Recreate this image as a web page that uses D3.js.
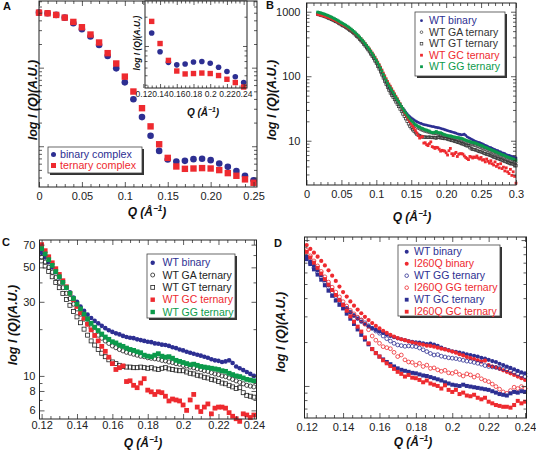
<!DOCTYPE html>
<html><head><meta charset="utf-8">
<script src="https://cdn.jsdelivr.net/npm/d3@7"></script>
<style>body{margin:0;background:#fff}svg{display:block}</style>
</head><body><svg id="c" width="536" height="455"></svg>
<script>
// ---------- Panel A data ----------
const qA = [0,0.01,0.02,0.03,0.04,0.05,0.06,0.07,0.08,0.09,0.10,0.11,0.12,0.13,0.14,0.15,0.16,0.17,0.18,0.19,0.20,0.21,0.22,0.23,0.24,0.25];
const binaryA = [501,492,469,433,368,309,249,194,141,98,65,39.7,23.5,13.6,8.73,6.79,6.40,6.52,6.85,6.92,6.65,6.04,5.47,4.83,4.21,3.68];
const ternaryA = [501,492,469,433,382,327,264,209,153,113,76.9,49.7,30.5,17.9,10.6,7.11,5.53,5.16,5.21,5.27,5.21,4.97,4.55,4.21,3.79,3.43];

// ---------- Panels B/C data (shared q grid) ----------
const qLow = [0.016,0.018,0.02,0.022,0.024,0.026,0.028,0.03,0.032,0.034,0.036,0.038,0.04,0.042,0.044,0.046,0.048,0.05,0.052,0.054,0.056,0.058,0.06,0.062,0.064,0.066,0.068,0.07,0.072,0.074,0.076,0.078,0.08,0.082,0.084,0.086,0.088,0.09,0.092,0.094,0.096,0.098,0.1,0.102,0.104,0.106,0.108,0.11,0.112,0.114,0.116,0.118];
const qMid = [0.12,0.122,0.124,0.126,0.128,0.13,0.132,0.134,0.136,0.138,0.14,0.142,0.144,0.146,0.148,0.15,0.152,0.154,0.156,0.158,0.16,0.162,0.164,0.166,0.168,0.17,0.172,0.174,0.176,0.178,0.18,0.182,0.184,0.186,0.188,0.19,0.192,0.194,0.196,0.198,0.2,0.202,0.204,0.206,0.208,0.21,0.212,0.214,0.216,0.218,0.22,0.222,0.224,0.226,0.228,0.23,0.232,0.234,0.236,0.238,0.24];
const qHigh = [0.242,0.244,0.246,0.248,0.25,0.252,0.254,0.256,0.258,0.26,0.262,0.264,0.266,0.268,0.27,0.272,0.274,0.276,0.278,0.28,0.282,0.284,0.286,0.288,0.29,0.292,0.294,0.296,0.298,0.3];
const qB = qLow.concat(qMid, qHigh);

const wtBinary = [959,946,933,918,904,887,871,853,836,817,798,778,759,738,718,697,676,655,637,618,600,581,561,541,520,499,478,456,435,413,392,371,350,330,310,290,272,254,236,219,203,187,171,156,142,128,115,103,92.5,82.8,74.5,67.6,
 62,58,54,50,46.5,43,40,37,34.5,32,30,28,26.3,24.8,23.6,22.6,21.8,21.0,20.3,19.7,19.2,18.8,18.5,18.1,17.8,17.6,17.5,17.2,17.0,16.8,16.6,16.5,16.2,16.1,15.9,15.8,15.6,15.3,15.1,14.8,14.6,14.3,14.1,13.9,13.7,13.5,13.3,13.1,12.8,12.6,12.5,12.3,12.4,12.6,12.1,11.5,11.2,10.9,10.6,10.3,10.0,
 9.8,9.6,9.4,9.3,9.1,8.9,8.7,8.5,8.3,8.1,7.9,7.8,7.6,7.4,7.3,7.1,7.0,6.8,6.7,6.5,6.4,6.3,6.1,6.0,5.9,5.8,5.7,5.6,5.5,5.4];
const wtGA = [930,918,905,890,877,860,845,827,811,793,774,755,740,720,700,680,660,640,622,604,587,568,549,530,509,489,468,447,426,404,383,362,341,321,301,281,263,245,227,210,194,178,163,148,135,121,109,97.5,87.5,78.3,70.4,63.8,
 58,54,50,46.5,43,40,37,34,31.5,29,27,25,23.2,21.7,20.4,19.3,18.3,17.5,16.8,16.2,15.6,15.2,14.8,14.5,14.2,14.0,13.8,13.6,13.4,13.3,13.1,13.0,12.9,12.8,12.6,12.5,12.3,12.2,12.0,11.9,11.7,11.6,11.4,11.3,11.1,11.0,10.8,10.7,10.5,10.3,10.2,10.0,9.9,9.7,9.5,9.3,9.1,8.9,8.7,8.6,8.5,
 8.4,8.2,8.1,7.9,7.7,7.6,7.4,7.3,7.1,7.0,6.8,6.7,6.5,6.4,6.2,6.1,6.0,5.8,5.7,5.6,5.5,5.4,5.2,5.1,5.0,4.9,4.8,4.7,4.7,4.6];
const wtGT = [911,899,886,872,859,843,827,810,794,776,758,739,724,705,686,666,646,626,609,591,574,556,537,518,498,478,458,437,417,396,375,355,334,315,295,276,258,240,222,205,189,173,158,143,130,117,105,94,84,75.0,67.4,61.0,
 55,51,47,43.5,40,37,34,31,28.5,26,24,22,20,18.3,16.8,15.8,14.8,14.0,13.3,12.7,12.3,12.0,11.7,11.5,11.4,11.4,11.3,11.3,11.4,11.3,11.2,11.3,11.1,11.0,11.2,11.3,11.1,11.0,10.9,10.8,10.8,10.6,10.4,10.3,10.1,10.0,9.8,9.7,9.5,9.4,9.2,9.0,8.9,8.7,8.5,8.3,8.4,7.8,7.5,7.4,7.3,
 7.2,7.1,6.9,6.8,6.7,6.6,6.4,6.3,6.2,6.1,6.0,5.9,5.7,5.6,5.5,5.4,5.3,5.2,5.1,5.0,4.9,4.8,4.7,4.6,4.5,4.4,4.4,4.3,4.2,4.1];
const wtGC = [911,901,891,879,869,855,842,827,813,796,779,761,744,725,707,687,668,648,632,614,598,580,561,543,523,503,484,463,443,422,401,381,361,341,321,301,283,265,247,230,214,198,181,166,152,138,125,112,101.6,91.6,83.0,75.7,
 70,64,58.5,53.5,49,45,41,37.5,34,31,28,25.5,23.5,21.5,19.8,18.2,16.8,15.5,14.4,13.2,12.0,11.0,11.3,11.6,9.2,9.3,8.7,8.4,9.0,9.6,8.1,7.9,7.6,7.9,7.8,7.4,6.9,7.1,7.0,6.9,6.5,6.0,7.0,7.6,6.3,5.9,6.3,6.6,5.7,6.2,6.3,6.3,6.2,5.8,5.5,5.3,5.1,5.7,5.6,5.4,5.6,
 5.5,5.8,5.4,5.2,5.5,5.0,5.1,4.7,5.2,4.8,4.5,4.9,4.4,4.2,4.7,4.0,4.3,3.8,4.4,3.7,3.9,3.4,3.8,3.3,3.1,3.6,2.9,3.3,2.8,2.2];
const wtGG = [988,974,961,946,931,914,897,879,861,842,822,801,782,760,740,718,696,675,656,637,618,598,578,557,536,514,492,470,448,425,404,382,361,340,319,299,280,262,243,226,209,193,176,161,147,133,120,107,96.5,86.9,78.5,71.5,
 66,61,56,51.5,47,43.5,40,37,34,31.5,29,27,25,23.3,21.8,20.6,19.6,18.6,17.8,17.2,16.6,16.3,15.8,15.5,15.1,14.8,14.6,14.3,14.1,13.6,13.4,13.3,13.6,13.9,13.4,13.2,13.3,13.0,12.6,12.4,12.2,12.0,11.8,11.9,11.7,11.5,11.4,11.3,11.2,11.1,11.0,10.8,10.7,10.4,10.2,10.0,9.9,9.7,9.5,9.4,9.3,
 9.2,9.0,8.8,8.6,8.5,8.3,8.1,7.9,7.8,7.6,7.4,7.3,7.1,7.0,6.8,6.7,6.5,6.4,6.2,6.1,6.0,5.9,5.7,5.6,5.5,5.4,5.3,5.2,5.1,5.0];

// ---------- Panel D data ----------
const qD = qMid;
const dWTBinary = [77,71.5,66.5,62,57.5,53,49,45.5,42,39,36,34,32,30.3,28.9,27.6,26.6,25.6,24.9,24.2,23.6,23.1,22.5,22.0,21.6,21.2,20.9,20.6,20.3,20.1,19.9,19.8,19.6,19.4,19.5,19.2,18.8,18.3,17.9,17.6,17.3,17.1,16.9,16.7,16.5,16.3,16.1,15.9,15.6,15.4,15.1,14.8,14.6,14.2,13.9,13.6,13.3,13.0,12.7,12.4,12.2];
const dI260QBinary = [92.5,87,82,77,72,67,62,57,52.5,48,44,41,38,35.5,33.4,31.5,29.8,28.3,27.0,25.8,24.8,23.9,23.1,22.4,21.8,21.3,20.9,20.6,20.2,19.9,19.6,19.4,19.2,18.9,18.8,18.6,18.3,18.0,17.8,17.5,17.2,16.9,16.5,16.2,15.8,15.5,15.3,15.0,14.7,14.9,13.9,13.6,13.4,13.1,12.8,12.5,12.2,11.9,11.6,11.3,11.0];
const dWTGG = [75,69.5,64.5,60,55.5,51.5,47.5,44,41,38.3,36,34,32.1,30.5,29.3,28.3,27.1,25.9,24.8,23.8,23.0,22.0,21.1,20.3,19.6,19.1,18.9,18.7,18.8,18.7,18.6,18.2,17.7,17.2,16.7,16.3,16.4,16.0,15.8,15.6,15.5,15.4,15.2,15.0,14.8,14.7,14.5,14.3,14.1,13.8,13.6,13.5,13.4,13.2,13.1,12.9,12.7,12.4,12.1,11.8,11.6];
const dI260QGG = [85,78,72,66.5,61,56,51.5,47.5,44,40.8,37.8,35.3,33.0,31.2,29.6,28.3,26.5,24.3,22.0,20.6,19.6,18.6,18.3,18.0,17.0,15.9,16.3,15.1,14.6,14.5,13.9,14.3,13.6,13.9,13.2,13.3,12.9,12.6,12.8,12.3,12.2,12.5,12.0,11.7,12.1,11.9,11.5,11.8,11.2,10.9,10.7,10.3,9.9,9.5,9.1,8.9,9.3,9.8,9.6,9.9,9.6];
const dWTGC = [74,68.5,63,58,53.5,49,45,41.5,38.5,36,34,31.3,28.9,26.6,24.4,22.4,20.8,19.3,17.9,16.8,15.9,15.2,14.6,14.1,13.6,13.2,12.9,12.7,12.5,12.3,12.2,12.0,11.8,11.7,11.5,11.3,11.1,10.9,10.6,10.4,10.2,10.1,10.0,10.2,10.0,9.9,9.8,9.7,9.6,9.5,9.4,9.2,9.0,8.8,8.7,8.6,8.9,9.1,9.0,9.2,9.1];
const dI260QGC = [83,76,70,64.5,59,54,49.5,45.5,42,38.8,35.9,32.8,30.0,27.6,25.5,23.6,21.5,19.6,17.9,16.8,15.9,15.0,14.3,13.7,13.1,12.5,12.1,11.6,11.9,11.4,11.3,11.0,10.6,10.9,10.4,10.2,10.0,9.6,10.1,9.4,9.1,9.4,8.8,9.0,8.6,8.5,8.7,8.3,8.1,8.3,7.8,7.6,7.4,7.3,7.2,7.2,7.1,7.4,7.9,7.6,7.8];

// ---------- tick labels ----------
const xTicksA = [0,0.05,0.1,0.15,0.2,0.25];
const xLabelsA = ["0","0.05","0.1","0.15","0.20","0.25"];
const xTicksInset = [0.12,0.14,0.16,0.18,0.2,0.22,0.24];
const xLabelsInset = ["0.12","0.14","0.16","0.18","0.2","0.22","0.24"];
const xTicksB = [0,0.05,0.1,0.15,0.2,0.25,0.3];
const xLabelsB = ["0","0.05","0.1","0.15","0.20","0.25","0.3"];
const yTicksB = [10,100,1000];
const yLabelsB = ["10","100","1000"];
const xTicksC = [0.12,0.14,0.16,0.18,0.2,0.22,0.24];
const xLabelsC = ["0.12","0.14","0.16","0.18","0.2","0.22","0.24"];
const yTicksC = [6,8,10,30,50,70];
const yLabelsC = ["6","8","10","30","50","70"];

// ---------- drawing ----------
const svg = d3.select('#c');
const FONT = "'Liberation Sans', Arial, Helvetica, sans-serif";
const BLUE = '#2d2f92', RED = '#ee2a2f', GREEN = '#0b9a4b';

function logTicks(lo, hi, mults) {
  const out = [];
  for (let e = -1; e <= 4; e++) for (const m of mults) { const v = m * Math.pow(10, e); if (v >= lo * 0.999 && v <= hi * 1.001) out.push(v); }
  return out;
}

function panel(c) {
  const x = d3.scaleLinear().domain(c.xd).range([c.l, c.r]);
  const y = d3.scaleLog().domain(c.yd).range([c.b, c.t]);
  const g = svg.append('g');
  g.append('rect').attr('x', c.l).attr('y', c.t).attr('width', c.r - c.l).attr('height', c.b - c.t).attr('fill', '#fff');
  const data = g.append('g');
  return { x, y, g, data, c };
}

function finish(p) {
  const { x, y, g, c } = p;
  const ax = g.append('g');
  const mk = (axis, tr) => {
    const a = ax.append('g').attr('transform', tr).call(axis);
    a.select('.domain').remove();
    a.selectAll('line').attr('stroke', '#333').attr('stroke-width', 0.8);
    a.selectAll('text').attr('font-family', FONT).attr('font-size', c.fs).attr('fill', '#222');
    return a;
  };
  const lab = (ticks, labels) => d => { const i = ticks.findIndex(t => Math.abs(t - d) < 1e-9); return i >= 0 ? labels[i] : ''; };
  const xMaj = c.xMaj, xMin = c.xMin;
  mk(d3.axisBottom(x).tickValues(xMaj).tickFormat(lab(xMaj, c.xLab)).tickSize(-c.tl).tickPadding(c.xpad), `translate(0,${c.b})`);
  mk(d3.axisBottom(x).tickValues(xMin).tickFormat('').tickSize(-c.ts), `translate(0,${c.b})`);
  mk(d3.axisTop(x).tickValues(xMaj).tickFormat('').tickSize(-c.tl), `translate(0,${c.t})`);
  mk(d3.axisTop(x).tickValues(xMin).tickFormat('').tickSize(-c.ts), `translate(0,${c.t})`);
  const yMaj = c.yMaj, yMin = c.yMin;
  const yl = c.yLab ? lab(yMaj, c.yLab) : '';
  mk(d3.axisLeft(y).tickValues(yMaj).tickFormat(yl).tickSize(-c.tl).tickPadding(c.ypad || 4), `translate(${c.l},0)`);
  mk(d3.axisLeft(y).tickValues(yMin).tickFormat('').tickSize(-c.ts), `translate(${c.l},0)`);
  mk(d3.axisRight(y).tickValues(yMaj).tickFormat('').tickSize(-c.tl), `translate(${c.r},0)`);
  mk(d3.axisRight(y).tickValues(yMin).tickFormat('').tickSize(-c.ts), `translate(${c.r},0)`);
  g.append('rect').attr('x', c.l).attr('y', c.t).attr('width', c.r - c.l).attr('height', c.b - c.t)
    .attr('fill', 'none').attr('stroke', '#222').attr('stroke-width', 1);
}

function series(p, qs, vs, shape, size, color, filled, sw) {
  const [x0, x1] = p.x.domain(), [y0, y1] = p.y.domain();
  const tol = p.c.ytol || 1;
  const pts = qs.map((q, i) => ({ q, v: vs[i] })).filter(d => d.q >= x0 - 1e-9 && d.q <= x1 + 1e-9 && d.v >= y0 * tol && d.v <= y1);
  const sel = p.data.append('g').selectAll(null).data(pts);
  if (shape === 'circle') {
    sel.join('circle').attr('cx', d => p.x(d.q)).attr('cy', d => p.y(d.v)).attr('r', size / 2)
      .attr('fill', filled ? color : 'none').attr('stroke', filled ? 'none' : color).attr('stroke-width', sw || 0.8);
  } else {
    sel.join('rect').attr('x', d => p.x(d.q) - size / 2).attr('y', d => p.y(d.v) - size / 2).attr('width', size).attr('height', size)
      .attr('fill', filled ? color : 'none').attr('stroke', filled ? 'none' : color).attr('stroke-width', sw || 0.8);
  }
}

function marker(g, cx, cy, shape, size, color, filled, sw) {
  if (shape === 'circle') g.append('circle').attr('cx', cx).attr('cy', cy).attr('r', size / 2)
    .attr('fill', filled ? color : 'none').attr('stroke', filled ? 'none' : color).attr('stroke-width', sw || 0.8);
  else g.append('rect').attr('x', cx - size / 2).attr('y', cy - size / 2).attr('width', size).attr('height', size)
    .attr('fill', filled ? color : 'none').attr('stroke', filled ? 'none' : color).attr('stroke-width', sw || 0.8);
}

function legend(x0, y0, x1, y1, rows, mx, tx, ys, fs) {
  const g = svg.append('g');
  g.append('rect').attr('x', x0 + 2).attr('y', y0 + 2).attr('width', x1 - x0).attr('height', y1 - y0).attr('fill', '#333');
  g.append('rect').attr('x', x0).attr('y', y0).attr('width', x1 - x0).attr('height', y1 - y0).attr('fill', '#fff').attr('stroke', '#444').attr('stroke-width', 0.8);
  rows.forEach((r, i) => {
    marker(g, mx, ys[i], r.shape, r.size, r.color, r.filled, r.sw);
    g.append('text').attr('x', tx).attr('y', ys[i]).attr('dy', '0.36em').attr('font-family', FONT).attr('font-size', fs)
      .attr('fill', r.tcolor || r.color).text(r.label);
  });
}

function yTitle(x, y, fs) {
  svg.append('text').attr('transform', `translate(${x},${y}) rotate(-90)`).attr('text-anchor', 'middle').attr('dy', '0.36em')
    .attr('font-family', FONT).attr('font-size', fs).attr('font-weight', 'bold').attr('font-style', 'italic').attr('fill', '#111')
    .text('log I (Q)(A.U.)');
}
function xTitle(x, y, fs) {
  const t = svg.append('text').attr('x', x).attr('y', y).attr('text-anchor', 'middle').attr('font-family', FONT)
    .attr('font-size', fs).attr('font-weight', 'bold').attr('font-style', 'italic').attr('fill', '#111');
  t.append('tspan').text('Q (Å');
  t.append('tspan').attr('dy', -fs * 0.38).attr('font-size', fs * 0.68).text('−1');
  t.append('tspan').attr('dy', fs * 0.38).text(')');
}
function panelLabel(x, y, s) {
  svg.append('text').attr('x', x).attr('y', y).attr('font-family', FONT).attr('font-size', 11).attr('font-weight', 'bold').attr('fill', '#111').text(s);
}
const minorLin = (a, b, step, majStep) => d3.range(a, b + 1e-9, step).filter(v => Math.abs(v / majStep - Math.round(v / majStep)) > 1e-6);

// ===== Panel A =====
(function () {
  const c = { l: 39, r: 257, t: 1, b: 187, xd: [0, 0.254], yd: [3.03, 705], fs: 11, tl: 5, ts: 3, xpad: 5,
    xMaj: xTicksA, xLab: xLabelsA, xMin: minorLin(0.01, 0.25, 0.01, 0.05),
    yMaj: logTicks(3.03, 705, [1]), yMin: logTicks(3.03, 705, [2, 3, 4, 5, 6, 7, 8, 9]) };
  const p = panel(c);
  series(p, qA, binaryA, 'circle', 6.6, BLUE, true);
  series(p, qA, ternaryA, 'rect', 6.4, RED, true);
  finish(p);
})();
legend(48, 147, 142, 173, [
  { label: 'binary complex', shape: 'circle', size: 5, color: BLUE, filled: true },
  { label: 'ternary complex', shape: 'rect', size: 5, color: RED, filled: true }
], 53.5, 60, [154.5, 165.5], 10.7);
// inset
(function () {
  const c = { l: 145, r: 247, t: 1, b: 88, xd: [0.122, 0.244], yd: [3.7, 29], fs: 8.5, tl: 4, ts: 2.5, xpad: 3,
    xMaj: xTicksInset, xLab: xLabelsInset, xMin: minorLin(0.125, 0.24, 0.005, 0.02).filter(v => v > 0.122),
    yMaj: logTicks(3.7, 29, [1]), yMin: logTicks(3.7, 29, [2, 3, 4, 5, 6, 7, 8, 9]) };
  const p = panel(c);
  series(p, qA, binaryA, 'circle', 5.6, BLUE, true);
  series(p, qA, ternaryA, 'rect', 5.4, RED, true);
  finish(p);
})();
yTitle(32, 100, 12.5);
xTitle(147, 216, 12);
yTitle(137, 43, 8.5);
xTitle(203, 116, 10);
panelLabel(3, 10, 'A');

// ===== Panel B =====
(function () {
  const c = { l: 306.5, r: 516, t: 3, b: 185, xd: [0, 0.3], yd: [2.06, 1365], fs: 11, tl: 5, ts: 3, xpad: 5, ypad: 6,
    xMaj: xTicksB, xLab: xLabelsB, xMin: minorLin(0.01, 0.29, 0.01, 0.05),
    yMaj: yTicksB, yLab: yLabelsB, yMin: logTicks(2.06, 1365, [2, 3, 4, 5, 6, 7, 8, 9]) };
  const p = panel(c);
  series(p, qB, wtBinary, 'circle', 2.8, BLUE, true);
  series(p, qB, wtGA, 'circle', 2.4, '#333', false, 0.7);
  series(p, qB, wtGT, 'rect', 2.4, '#333', false, 0.7);
  series(p, qB, wtGC, 'rect', 2.8, RED, true);
  series(p, qB, wtGG, 'rect', 2.8, GREEN, true);
  finish(p);
})();
legend(415, 12, 505, 76, [
  { label: 'WT binary', shape: 'circle', size: 2.8, color: BLUE, filled: true },
  { label: 'WT GA ternary', shape: 'circle', size: 2.6, color: '#333', filled: false, sw: 0.7 },
  { label: 'WT GT ternary', shape: 'rect', size: 2.6, color: '#333', filled: false, sw: 0.7 },
  { label: 'WT GC ternary', shape: 'rect', size: 2.8, color: RED, filled: true },
  { label: 'WT GG ternary', shape: 'rect', size: 2.8, color: GREEN, filled: true }
], 421.5, 429, [20.7, 32.2, 43.7, 55.2, 66.7], 10.5);
yTitle(271, 100, 12.5);
xTitle(412, 221, 12);
panelLabel(266, 9, 'B');

// ===== Panel C =====
(function () {
  const c = { l: 39.5, r: 256.5, t: 240, b: 419, xd: [0.1188, 0.2415], yd: [5.28, 75], ytol: 0.94, fs: 11, tl: 5, ts: 3, xpad: 2, ypad: 4,
    xMaj: xTicksC, xLab: xLabelsC, xMin: minorLin(0.125, 0.24, 0.005, 0.02).filter(v => v > 0.12),
    yMaj: yTicksC, yLab: yLabelsC, yMin: logTicks(5.28, 75, [1, 2, 3, 4, 5, 6, 7, 8, 9]).filter(v => !yTicksC.includes(v)) };
  const p = panel(c);
  series(p, qB, wtBinary, 'circle', 4.6, BLUE, true);
  series(p, qB, wtGA, 'circle', 4.2, '#222', false, 0.8);
  series(p, qB, wtGT, 'rect', 4.0, '#222', false, 0.8);
  series(p, qB, wtGC, 'rect', 4.8, RED, true);
  series(p, qB, wtGG, 'rect', 4.8, GREEN, true);
  finish(p);
})();
legend(147, 254, 235, 318, [
  { label: 'WT binary', shape: 'circle', size: 4.4, color: BLUE, filled: true },
  { label: 'WT GA ternary', shape: 'circle', size: 4.0, color: '#222', filled: false },
  { label: 'WT GT ternary', shape: 'rect', size: 3.8, color: '#222', filled: false },
  { label: 'WT GC ternary', shape: 'rect', size: 4.4, color: RED, filled: true },
  { label: 'WT GG ternary', shape: 'rect', size: 4.4, color: GREEN, filled: true }
], 152.7, 162.5, [262.7, 275.0, 287.4, 299.7, 312.0], 10.5);
yTitle(12, 325, 12.5);
xTitle(143, 447, 12);
panelLabel(2, 246, 'C');

// ===== Panel D =====
(function () {
  const c = { l: 304.5, r: 526.5, t: 237, b: 418, xd: [0.1188, 0.2408], yd: [6.03, 105], fs: 11, tl: 5, ts: 3, xpad: 5,
    xMaj: xTicksC, xLab: xLabelsC, xMin: minorLin(0.125, 0.24, 0.005, 0.02).filter(v => v > 0.12),
    yMaj: logTicks(6.03, 105, [1]), yMin: logTicks(6.03, 105, [2, 3, 4, 5, 6, 7, 8, 9]) };
  const p = panel(c);
  series(p, qD, dWTBinary, 'circle', 4.2, BLUE, true);
  series(p, qD, dI260QBinary, 'circle', 4.2, RED, true);
  series(p, qD, dWTGG, 'circle', 3.8, BLUE, false, 0.8);
  series(p, qD, dI260QGG, 'circle', 3.8, RED, false, 0.8);
  series(p, qD, dWTGC, 'rect', 4.0, BLUE, true);
  series(p, qD, dI260QGC, 'rect', 4.0, RED, true);
  finish(p);
})();
legend(398, 245, 500, 316, [
  { label: 'WT binary', shape: 'circle', size: 4, color: BLUE, filled: true },
  { label: 'I260Q binary', shape: 'circle', size: 4, color: RED, filled: true },
  { label: 'WT GG ternary', shape: 'circle', size: 3.6, color: BLUE, filled: false },
  { label: 'I260Q GG ternary', shape: 'circle', size: 3.6, color: RED, filled: false },
  { label: 'WT GC ternary', shape: 'rect', size: 3.8, color: BLUE, filled: true },
  { label: 'I260Q GC ternary', shape: 'rect', size: 3.8, color: RED, filled: true }
], 406.7, 414, [251.7, 263.7, 275.7, 287.7, 299.7, 311.7], 10.5);
yTitle(280, 332, 12.5);
xTitle(413, 446, 12);
panelLabel(274, 247, 'D');
</script></body></html>
